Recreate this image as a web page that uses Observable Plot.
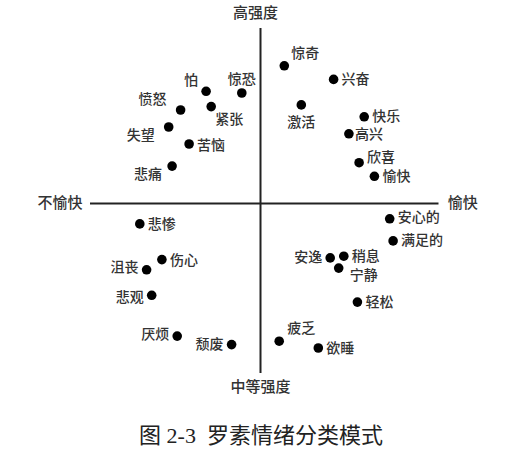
<!DOCTYPE html>
<html><head><meta charset="utf-8">
<script src="https://cdn.jsdelivr.net/npm/d3@7"></script>
<script src="https://cdn.jsdelivr.net/npm/@observablehq/plot@0.6"></script>
<style>
body{margin:0;background:#fff;}
#cap{width:522px;text-align:center;margin-top:18px;font-family:"Liberation Serif","Noto Sans CJK SC",serif;font-size:22px;color:#222;line-height:26px;}
</style></head><body>
<div id="chart"></div>
<div id="cap">图 2-3&nbsp; 罗素情绪分类模式</div>
<script>
// emotion words and their positions on the (pleasantness, intensity) plane
const emotions = ["怕","惊恐","愤怒","紧张","失望","苦恼","悲痛",
  "惊奇","兴奋","激活","快乐","高兴","欣喜","愉快",
  "悲惨","伤心","沮丧","悲观","厌烦","颓废",
  "安心的","满足的","安逸","稍息","宁静","轻松","疲乏","欲睡"];
const pleasantness = [-0.32,-0.11,-0.47,-0.29,-0.54,-0.42,-0.52,
  0.14,0.43,0.24,0.61,0.52,0.58,0.67,
  -0.71,-0.58,-0.67,-0.64,-0.49,-0.17,
  0.76,0.78,0.41,0.49,0.46,0.57,0.11,0.34];
const intensity = [0.66,0.65,0.55,0.57,0.45,0.35,0.22,
  0.81,0.73,0.58,0.51,0.41,0.24,0.16,
  -0.12,-0.33,-0.39,-0.54,-0.78,-0.83,
  -0.09,-0.22,-0.32,-0.31,-0.38,-0.58,-0.81,-0.85];
// axis pole labels
const poleLabels = ["高强度","中等强度","不愉快","愉快"];
const poleX = [-0.03, 0, -1.18, 1.19];
const poleY = [1.12, -1.08, 0, 0];

const data = emotions.map((name,i)=>({name, x:pleasantness[i], y:intensity[i]}));
const poles = poleLabels.map((t,i)=>({t, x:poleX[i], y:poleY[i]}));

// label placement relative to the dot (layout only)
const place = {
  "怕":[-15,-11,"middle"],"惊恐":[0,-13,"middle"],"愤怒":[-28,-10,"middle"],
  "紧张":[18,13,"middle"],"失望":[-28,9,"middle"],"苦恼":[8,2,"start"],
  "悲痛":[-24,8,"middle"],"惊奇":[21,-12,"middle"],"兴奋":[8,0,"start"],
  "激活":[0,18,"middle"],"快乐":[8,0,"start"],"高兴":[6,1,"start"],
  "欣喜":[22,-5,"middle"],"愉快":[8,0,"start"],"悲惨":[8,1,"start"],
  "伤心":[8,1,"start"],"沮丧":[-8,-2,"end"],"悲观":[-8,2,"end"],
  "厌烦":[-8,-2,"end"],"颓废":[-8,0,"end"],"安心的":[8,-1,"start"],
  "满足的":[8,0,"start"],"安逸":[-8,0,"end"],"稍息":[8,0,"start"],
  "宁静":[25,7,"middle"],"轻松":[8,0,"start"],"疲乏":[22,-13,"middle"],
  "欲睡":[8,1,"start"]
};
const groups = d3.groups(data, d => place[d.name].join(","));
const textMarks = groups.map(([k, rows]) => {
  const [dx, dy, anchor] = place[rows[0].name];
  return Plot.text(rows, {x:"x", y:"y", text:"name", dx, dy, textAnchor:anchor,
    fontSize:14, fill:"#333", fontWeight:500});
});

const chart = Plot.plot({
  width:522, height:405,
  marginLeft:90, marginRight:92, marginTop:33, marginBottom:32,
  x:{domain:[-1,1], axis:null},
  y:{domain:[-1,1], axis:null},
  style:{fontFamily:"'Noto Sans CJK SC', sans-serif", background:"#fff"},
  marks:[
    Plot.ruleY([0], {x1:-1, x2:1.05, stroke:"#222", strokeWidth:2}),
    Plot.ruleX([0], {y1:-1, y2:1.03, stroke:"#222", strokeWidth:2}),
    Plot.dot(data, {x:"x", y:"y", r:4.8, fill:"#000", stroke:"none"}),
    ...textMarks,
    Plot.text(poles, {x:"x", y:"y", text:"t", fontSize:15, fill:"#333", fontWeight:500})
  ]
});
document.getElementById("chart").appendChild(chart);
</script>
</body></html>
